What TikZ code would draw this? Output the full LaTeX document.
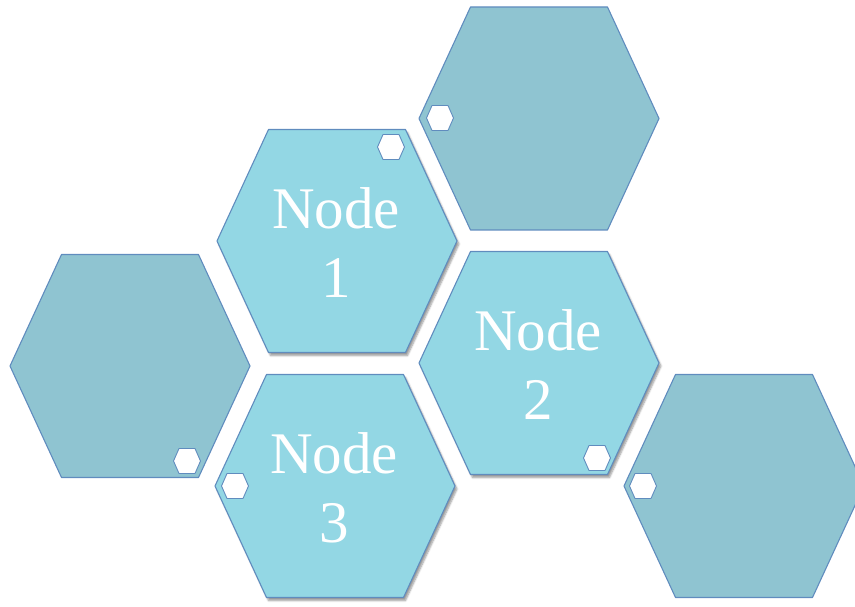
\documentclass[tikz,border=0pt]{standalone}
\usepackage{fontspec}
\setmainfont{Liberation Serif}
\usetikzlibrary{shadows.blur}
\definecolor{nodefill}{RGB}{147,215,228}
\definecolor{outerfill}{RGB}{143,196,209}
\definecolor{hexedge}{RGB}{96,140,190}
% hexagon outline: centre (#1,#2), half-width #3, half-height #4, half top edge #5
\newcommand\hexshape[5]{({#1-#3},{#2}) -- ({#1-#5},{#2-#4}) -- ({#1+#5},{#2-#4}) -- ({#1+#3},{#2}) -- ({#1+#5},{#2+#4}) -- ({#1-#5},{#2+#4}) -- cycle}
\tikzset{
  bighex/.style={draw=hexedge, line width=1.1pt, line join=round},
  mainhex/.style={bighex, fill=nodefill,
    blur shadow={shadow xshift=2pt, shadow yshift=-3pt, shadow blur steps=6, shadow opacity=40}},
  sidehex/.style={bighex, fill=outerfill},
  markhex/.style={draw=hexedge, line width=0.9pt, fill=white},
  label/.style={text=white, align=center, font=\fontsize{59}{69}\selectfont}
}
\begin{document}
\begin{tikzpicture}[x=1pt, y=-1pt]
\useasboundingbox (0,0) rectangle (855,607);
% outer, unlabeled hexagons
\path[sidehex] \hexshape{539}{118.5}{120}{111.5}{68.5};
\path[sidehex] \hexshape{130}{366}{120}{111.5}{68.5};
\path[sidehex] \hexshape{744}{486}{120}{111.5}{68.5};
% labelled hexagons
\path[mainhex] \hexshape{337}{241}{120}{111.5}{68.5};
\path[mainhex] \hexshape{539}{363}{120}{111.5}{68.5};
\path[mainhex] \hexshape{335}{486}{120}{111.5}{68.5};
% small white corner markers
\path[markhex] \hexshape{391}{147}{13.5}{12.5}{8};
\path[markhex] \hexshape{440}{118}{13.5}{12.5}{8};
\path[markhex] \hexshape{187}{461}{13.5}{12.5}{8};
\path[markhex] \hexshape{643}{486}{13.5}{12.5}{8};
\path[markhex] \hexshape{235}{486}{13.5}{12.5}{8};
\path[markhex] \hexshape{597}{458}{13.5}{12.5}{8};
% labels
\node[label] (n1) at (336,243) {Node\\1};
\node[label] (n2) at (538,365) {Node\\2};
\node[label] (n3) at (334,488) {Node\\3};
\end{tikzpicture}
\end{document}
